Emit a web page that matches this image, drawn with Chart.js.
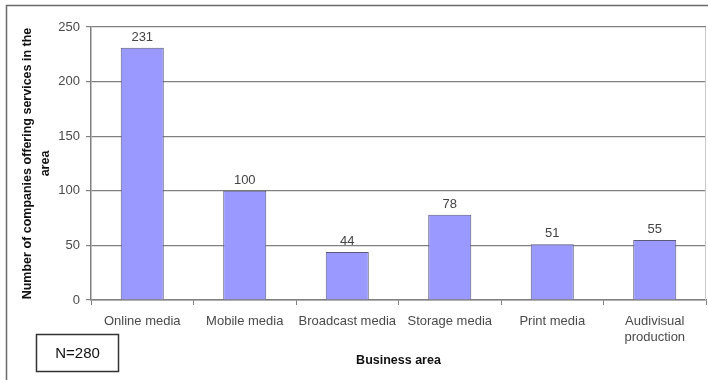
<!DOCTYPE html>
<html>
<head>
<meta charset="utf-8">
<script src="https://cdn.jsdelivr.net/npm/chart.js@4"></script>
<style>
  body { margin: 0; background: #fff; }
  canvas { display: block; }
</style>
</head>
<body>
<canvas id="barChart" width="708" height="380"></canvas>
<script>
// data
const categories = ["Online media", "Mobile media", "Broadcast media", "Storage media", "Print media", ["Audivisual", "production"]];
const companies = [231, 100, 44, 78, 51, 55];
const yTicks = [0, 50, 100, 150, 200, 250];

// frame, N box, right edge of the plot
const framePlugin = {
  id: "frame",
  beforeDraw(chart) {
    const c = chart.ctx;
    c.save();
    c.fillStyle = "#fff";
    c.fillRect(0, 0, chart.width, chart.height);
    c.strokeStyle = "#6a6a6a";
    c.lineWidth = 1.5;
    c.strokeRect(6.5, 5.5, 760, 420);
    c.restore();
  },
  afterDraw(chart) {
    const c = chart.ctx;
    const a = chart.chartArea;
    c.save();
    c.strokeStyle = "#c8c8c8";
    c.lineWidth = 1;
    c.beginPath();
    c.moveTo(a.right - 0.5, a.top);
    c.lineTo(a.right - 0.5, a.bottom);
    c.stroke();
    c.strokeStyle = "#333";
    c.lineWidth = 1.5;
    c.strokeRect(36.5, 334.5, 82, 37);
    c.fillStyle = "#111";
    c.font = "15px 'Liberation Sans', Arial, sans-serif";
    c.textAlign = "center";
    c.textBaseline = "middle";
    c.fillText("N=280", 77.5, 354);
    c.restore();
  }
};

// value labels above the bars
const valueLabels = {
  id: "valueLabels",
  afterDatasetsDraw(chart) {
    const c = chart.ctx;
    const meta = chart.getDatasetMeta(0);
    c.save();
    c.fillStyle = "#444";
    c.font = "13px 'Liberation Sans', Arial, sans-serif";
    c.textAlign = "center";
    c.textBaseline = "bottom";
    meta.data.forEach((bar, i) => {
      c.fillText(String(companies[i]), bar.x, bar.y - 4);
    });
    c.restore();
  }
};

const ctx = document.getElementById("barChart");
new Chart(ctx, {
  type: "bar",
  data: {
    labels: categories,
    datasets: [
      {
        label: "Companies",
        data: companies,
        backgroundColor: "#9999ff",
        borderColor: "#5a5a7a",
        borderWidth: 1,
        barPercentage: 0.42,
        categoryPercentage: 1
      }
    ]
  },
  options: {
    responsive: false,
    animation: false,
    layout: { padding: { top: 27, right: 2, left: 0, bottom: 0 } },
    plugins: {
      legend: { display: false },
      tooltip: { enabled: false }
    },
    scales: {
      x: {
        grid: { drawOnChartArea: false, drawTicks: true, tickLength: 5, color: "#808080", lineWidth: 1 },
        border: { color: "#808080", width: 1.5 },
        ticks: {
          color: "#4a4a4a",
          padding: 8,
          maxRotation: 0,
          autoSkip: false,
          font: { family: "'Liberation Sans', Arial, sans-serif", size: 13, lineHeight: 1.25 }
        },
        title: {
          display: true,
          text: "Business area",
          color: "#111",
          font: { family: "'Liberation Sans', Arial, sans-serif", size: 12.5, weight: "bold" },
          padding: { top: 0, bottom: 12 }
        },
        afterFit(scale) { scale.height = 80; }
      },
      y: {
        min: 0,
        max: 250,
        afterBuildTicks(scale) { scale.ticks = yTicks.map(v => ({ value: v })); },
        grid: { color: "#808080", lineWidth: 1.2, tickLength: 5 },
        border: { color: "#808080", width: 1.5 },
        ticks: {
          color: "#4a4a4a",
          padding: 6,
          font: { family: "'Liberation Sans', Arial, sans-serif", size: 13 }
        },
        title: {
          display: true,
          text: ["Number of companies offering services in the", "area"],
          color: "#111",
          font: { family: "'Liberation Sans', Arial, sans-serif", size: 12.5, weight: "bold", lineHeight: 1.4 },
          padding: { top: 19, bottom: 0 }
        },
        afterFit(scale) { scale.width = 91; }
      }
    }
  },
  plugins: [framePlugin, valueLabels]
});
</script>
</body>
</html>
